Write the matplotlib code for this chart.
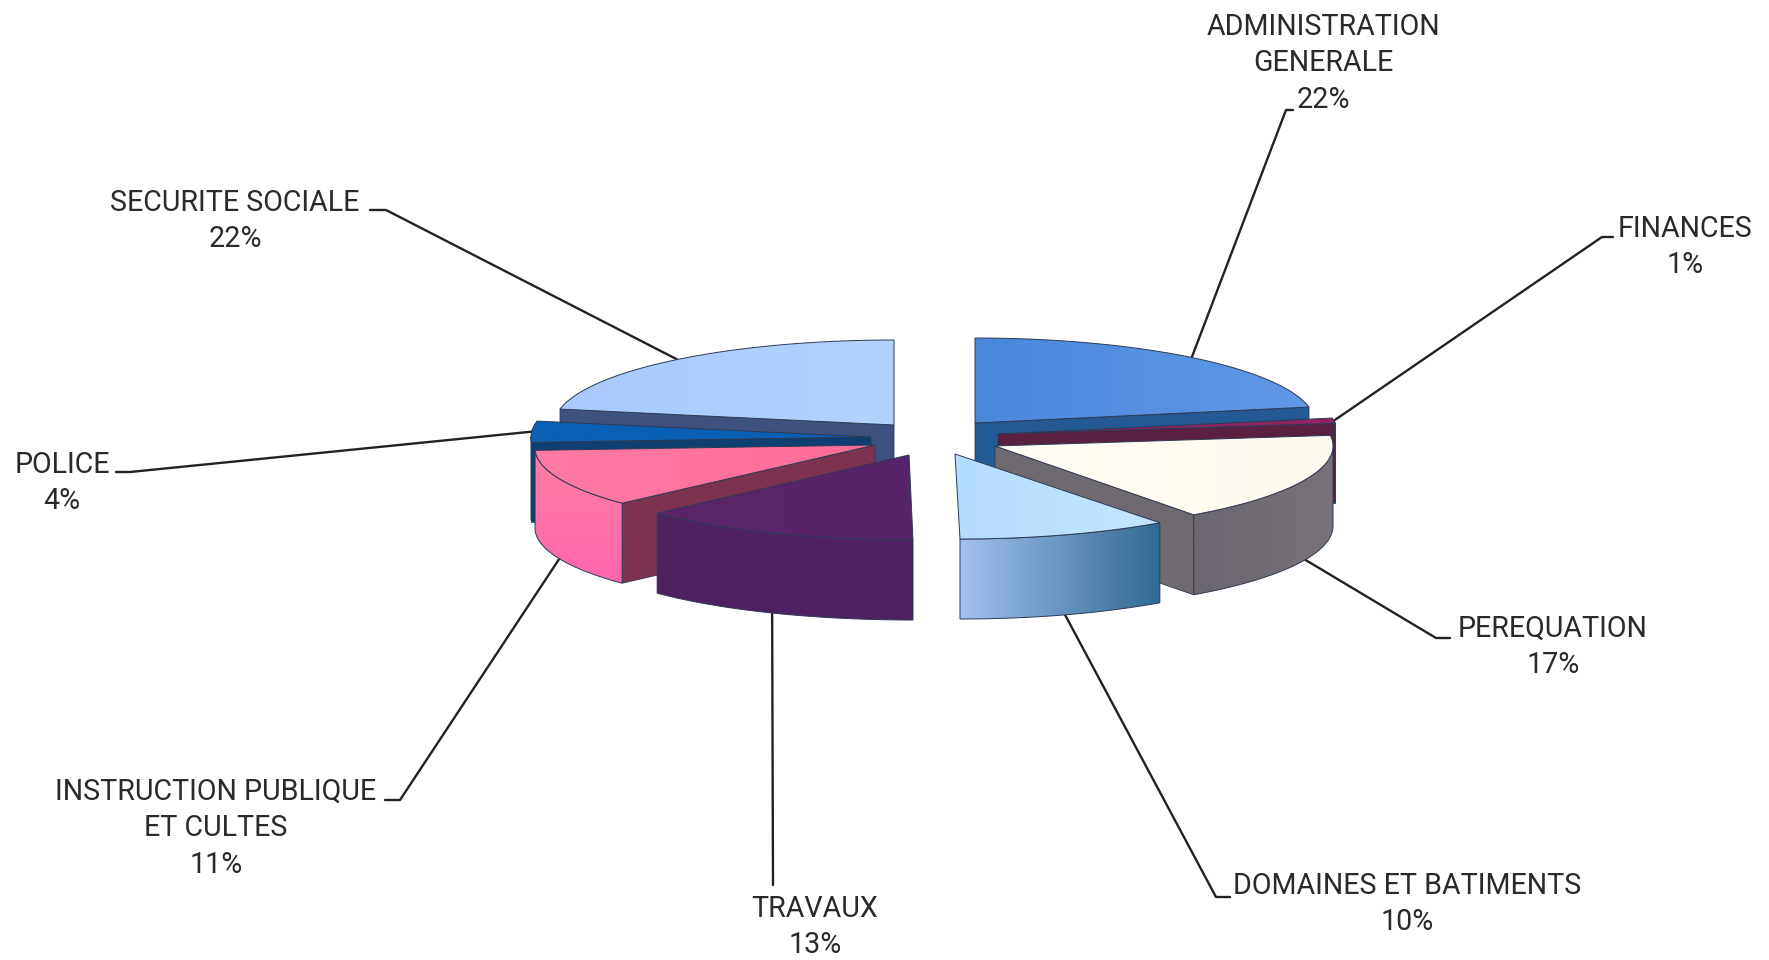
import numpy as np
import matplotlib
matplotlib.use("Agg")
import matplotlib.pyplot as plt
from matplotlib.patches import Polygon
from matplotlib.colors import LinearSegmentedColormap

# ---- data ----
categories = ["ADMINISTRATION\nGENERALE", "FINANCES", "PEREQUATION", "DOMAINES ET BATIMENTS",
              "TRAVAUX", "INSTRUCTION PUBLIQUE\nET CULTES", "POLICE", "SECURITE SOCIALE"]
values = [22, 1, 17, 10, 13, 11, 4, 22]

# ---- layout/style ----
W, H = 1769, 960
RY, DEPTH = 85, 80
apex_x = [975, 998, 995, 960, 913, 875, 871, 894]
apex_y = [423, 434, 446, 454, 455, 445, 437, 425]
tip_dx = [0, 0, 0, -5, -4, 0, 0, 0]
radius = [340, 340, 338, 340, 340, 340, 340, 340]
front_gain = [0, 0, 0, 0, 16, 10, 0, 0]
top_cols = [("#4a88dc", "#6098e6"), ("#8c2560", "#8c2560"), ("#fffdf4", "#fffaf0"), ("#b4dcff", "#c4e6ff"),
            ("#5a2668", "#56246a"), ("#ff7aa6", "#ff6c98"), ("#0a60b4", "#0a60b4"), ("#a8caff", "#b4d2ff")]
side_cols = [("#3a6aa0", "#3a6aa0"), ("#5a2040", "#5a2040"), ("#6a6670", "#7a7278"), ("#a2c0f2", "#2f6a92"),
             ("#4e2160", "#4e2160"), ("#ff7ea2", "#ff66ae"), ("#12528f", "#12528f"), ("#8aa", "#8aa")]
side_horizontal = [True, True, True, True, True, False, True, True]
cut_cols = ["#235a96", "#5a2040", "#6e6a70", None, None, "#7d3350", "#0d3f72", "#3f5180"]
edge = "#2c3a55"
# text anchors: centre x, top y
label_pos = [(1323, 13), (1685, 215), (1553, 615), (1407, 872), (815, 895), (216, 778), (62, 451), (235, 189)]
elbows = [[(1286, 110), (1293, 110)], [(1602, 237), (1613, 237)], [(1436, 638), (1450, 638)],
          [(1216, 897), (1230, 897)], [(773, 885)], [(400, 800), (385, 800)],
          [(130, 472), (116, 472)], [(386, 210), (370, 210)]]

plt.rcParams["font.family"] = ["Roboto", "Liberation Sans"]
fsize = 20.6

fig = plt.figure(figsize=(W / 100, H / 100), dpi=100)
ax = fig.add_axes([0, 0, 1, 1])
ax.set_xlim(0, W)
ax.set_ylim(H, 0)
ax.axis("off")

fr = np.array(values, float) / sum(values)
ends = np.cumsum(fr) * 360
starts = ends - fr * 360


def pt(i, deg, dz=0):
    t = np.radians(deg)
    r = radius[i] + front_gain[i] * max(0.0, -np.cos(t))
    return apex_x[i] + r * np.sin(t), apex_y[i] - RY * np.cos(t) + dz


def tip(i):
    return apex_x[i] + tip_dx[i], apex_y[i]


def grad_poly(xy, cols, z, horizontal=True, lw=0.7):
    xy = np.asarray(xy)
    cmap = LinearSegmentedColormap.from_list("g", list(cols))
    g = np.linspace(0, 1, 128)
    g = g[None, :] if horizontal else g[:, None]
    x0, x1, y0, y1 = xy[:, 0].min(), xy[:, 0].max(), xy[:, 1].min(), xy[:, 1].max()
    im = ax.imshow(g, cmap=cmap, extent=(x0, x1, y1, y0), aspect="auto", zorder=z, interpolation="bilinear")
    p = Polygon(xy, closed=True, fc="none", ec=edge, lw=lw, zorder=z + 0.1)
    ax.add_patch(p)
    im.set_clip_path(p)


def cut_face(i, deg, z):
    x, y = pt(i, deg)
    a = tip(i)
    q = [a, (x, y), (x, y + DEPTH), (a[0], a[1] + DEPTH)]
    ax.add_patch(Polygon(q, closed=True, fc=cut_cols[i], ec=edge, lw=0.6, zorder=z))


def outer_side(i, a0, a1, z):
    th = np.linspace(a0, a1, 60)
    up = np.array([pt(i, d) for d in th])
    dn = np.array([pt(i, d, DEPTH) for d in th])[::-1]
    grad_poly(np.vstack([up, dn]), side_cols[i], z, side_horizontal[i])


def top_face(i, z):
    th = np.linspace(starts[i], ends[i], 80)
    arc = np.array([pt(i, d) for d in th])
    grad_poly(np.vstack([[tip(i)], arc]), top_cols[i], z)


order = [0, 7, 6, 1, 5, 2, 3, 4]
for n, i in enumerate(order):
    z = 2 + n
    s, e = starts[i], ends[i]
    if cut_cols[i] is not None:
        cut_face(i, e if e <= 180 else s, z)
    a0, a1 = max(s, 90), min(e, 270)
    if a1 > a0:
        outer_side(i, a0, a1, z + 0.2)
    elif i == 1:
        outer_side(i, s, e, z + 0.2)
    top_face(i, z + 0.4)

# leader lines
for i in range(len(values)):
    mid = (starts[i] + ends[i]) / 2
    dz = DEPTH if 90 < mid < 270 else 0
    x, y = pt(i, mid, dz)
    pts = [(x, y)] + elbows[i]
    ax.plot(*zip(*pts), color="#222222", lw=1.7, zorder=1, solid_capstyle="round")

# labels
for i, (c, v) in enumerate(zip(categories, values)):
    x, y = label_pos[i]
    ax.text(x, y, f"{c}\n{v}%", ha="center", va="top", multialignment="center",
            fontsize=fsize, color="#2a2a2a", linespacing=1.38, zorder=30)

fig.savefig("out.png", dpi=100, facecolor="white")
